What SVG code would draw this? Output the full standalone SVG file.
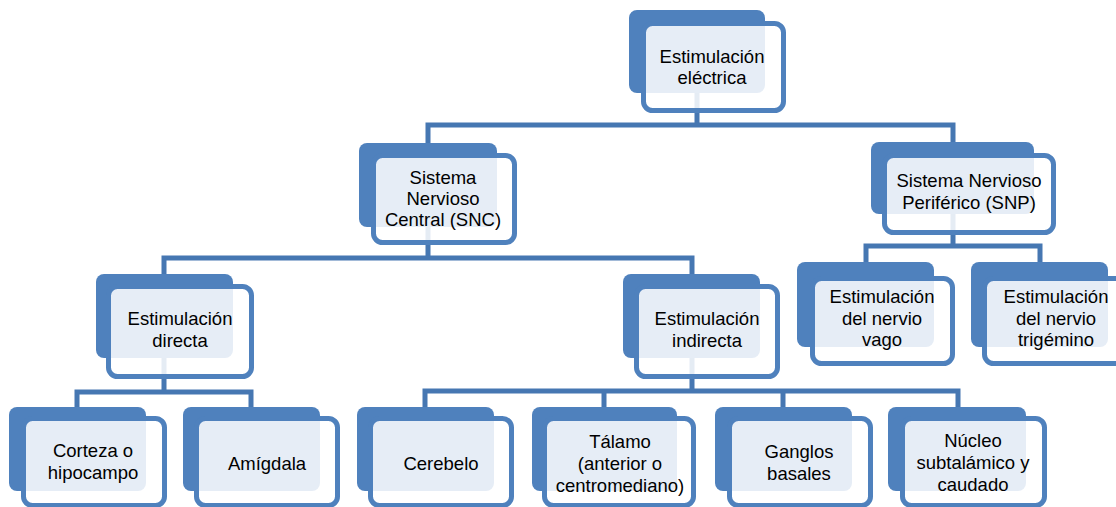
<svg xmlns="http://www.w3.org/2000/svg" width="1116" height="507" viewBox="0 0 1116 507">
<style>
.bk{fill:#4F81BD}
.fr{fill:#FFFFFF;fill-opacity:0.86;stroke:#4F81BD;stroke-width:5}
.cn{fill:none;stroke:#4677B2;stroke-width:5;stroke-linejoin:miter}
text{font-family:"Liberation Sans",Arial,sans-serif;font-size:18.5px;fill:#000;text-anchor:middle}
</style>
<rect width="1116" height="507" fill="#FFFFFF"/>
<g id="connectors">
<path class="cn" d="M697,93 V125 M428,143 V125 H953 V142"/>
<path class="cn" d="M428,227 V258 M164,274 V258 H692 V274"/>
<path class="cn" d="M953,214 V246 M866,262 V246 H1040 V262"/>
<path class="cn" d="M164,358 V392 M77,407 V392 H251 V407"/>
<path class="cn" d="M692,358 V391 M425,407 V391 H958 V407 M604,391 V407 M783,391 V407"/>
</g>
<g id="n-estimulacion-electrica">
<rect class="bk" x="629" y="10" width="136" height="83" rx="8"/>
<rect class="fr" x="643.5" y="23.5" width="140" height="87" rx="9"/>
<text x="712" y="63">Estimulación</text>
<text x="712" y="84">eléctrica</text>
</g>
<g id="n-snc">
<rect class="bk" x="359" y="143" width="138" height="84" rx="8"/>
<rect class="fr" x="373.5" y="155.5" width="141" height="87" rx="9"/>
<text x="443" y="184">Sistema</text>
<text x="443" y="205">Nervioso</text>
<text x="443" y="226">Central (SNC)</text>
</g>
<g id="n-snp">
<rect class="bk" x="871" y="142" width="163" height="72" rx="8"/>
<rect class="fr" x="884.5" y="155.5" width="169" height="77" rx="9"/>
<text x="969" y="187">Sistema Nervioso</text>
<text x="969" y="209">Periférico (SNP)</text>
</g>
<g id="n-directa">
<rect class="bk" x="96" y="274" width="137" height="84" rx="8"/>
<rect class="fr" x="108.5" y="286.5" width="143" height="90" rx="9"/>
<text x="180" y="325">Estimulación</text>
<text x="180" y="347">directa</text>
</g>
<g id="n-indirecta">
<rect class="bk" x="623" y="274" width="137" height="84" rx="8"/>
<rect class="fr" x="636.5" y="286.5" width="141" height="90" rx="9"/>
<text x="707" y="325">Estimulación</text>
<text x="707" y="347">indirecta</text>
</g>
<g id="n-vago">
<rect class="bk" x="797" y="262" width="137" height="85" rx="8"/>
<rect class="fr" x="812.5" y="278.5" width="140" height="85" rx="9"/>
<text x="882" y="303">Estimulación</text>
<text x="882" y="325">del nervio</text>
<text x="882" y="346">vago</text>
</g>
<g id="n-trigemino">
<rect class="bk" x="971" y="262" width="137" height="85" rx="8"/>
<rect class="fr" x="984.5" y="278.5" width="145" height="85" rx="9"/>
<text x="1056" y="303">Estimulación</text>
<text x="1056" y="325">del nervio</text>
<text x="1056" y="346">trigémino</text>
</g>
<g id="n-corteza">
<rect class="bk" x="9" y="407" width="137" height="84" rx="8"/>
<rect class="fr" x="23.5" y="418.5" width="141" height="87" rx="9"/>
<text x="93" y="457">Corteza o</text>
<text x="93" y="479">hipocampo</text>
</g>
<g id="n-amigdala">
<rect class="bk" x="183" y="407" width="137" height="84" rx="8"/>
<rect class="fr" x="196.5" y="418.5" width="141" height="87" rx="9"/>
<text x="267" y="470">Amígdala</text>
</g>
<g id="n-cerebelo">
<rect class="bk" x="357" y="407" width="137" height="84" rx="8"/>
<rect class="fr" x="370.5" y="418.5" width="141" height="87" rx="9"/>
<text x="441" y="470">Cerebelo</text>
</g>
<g id="n-talamo">
<rect class="bk" x="532" y="407" width="145" height="84" rx="8"/>
<rect class="fr" x="544.5" y="418.5" width="149" height="87" rx="9"/>
<text x="620" y="448">Tálamo</text>
<text x="620" y="470">(anterior o</text>
<text x="620" y="492">centromediano)</text>
</g>
<g id="n-ganglios">
<rect class="bk" x="715" y="407" width="137" height="84" rx="8"/>
<rect class="fr" x="729.5" y="418.5" width="141" height="87" rx="9"/>
<text x="799" y="458">Ganglos</text>
<text x="799" y="480">basales</text>
</g>
<g id="n-nucleo">
<rect class="bk" x="888" y="407" width="138" height="84" rx="8"/>
<rect class="fr" x="902.5" y="418.5" width="142" height="87" rx="9"/>
<text x="973" y="447">Núcleo</text>
<text x="973" y="469">subtalámico y</text>
<text x="973" y="491">caudado</text>
</g>
</svg>
